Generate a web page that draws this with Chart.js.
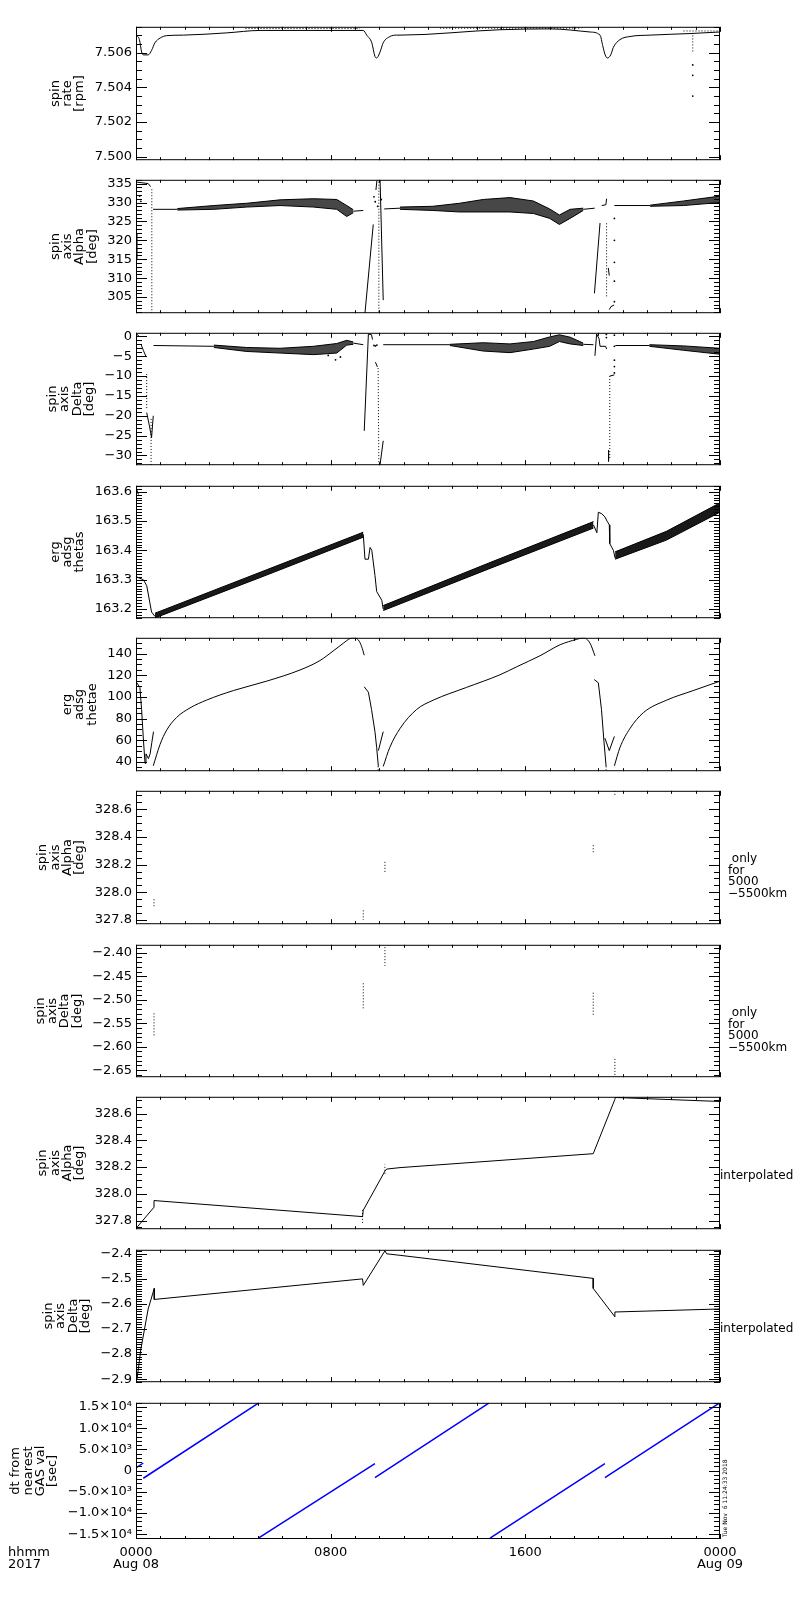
<!DOCTYPE html>
<html>
<head>
<meta charset="utf-8">
<script src="https://cdn.jsdelivr.net/npm/chart.js@4.4.1/dist/chart.umd.min.js"></script>
<style>
  html, body { margin: 0; padding: 0; background: #fff; }
  #wrap { position: relative; width: 800px; height: 1600px; }
  .panel { position: absolute; left: 0; width: 800px; }
</style>
</head>
<body>
<div id="wrap"></div>
<script>
// hours since 0000 Aug 08 2017
const xTicks = [0, 8, 16, 24];
const xLabels = [['0000', 'Aug 08'], '0800', '1600', ['0000', 'Aug 09']];

// spin rate [rpm]
const rateTicks = [7.500, 7.502, 7.504, 7.506];
const rateH = [0, 0.14, 0.23, 0.3, 0.5, 0.64, 0.78, 0.99, 1.26, 1.95, 3.73, 5.1, 9.34, 9.48, 9.69, 9.82, 9.89, 10.03, 10.16, 10.44, 10.71, 10.85, 14.96, 17.02, 18.66, 19.07, 19.18, 19.28, 19.37, 19.51, 19.62, 19.89, 20.3, 21.13, 22.77, 24];
const rateV = [7.50702, 7.50676, 7.50605, 7.50588, 7.50588, 7.50614, 7.50658, 7.50685, 7.50699, 7.50702, 7.50715, 7.50729, 7.50729, 7.50702, 7.50658, 7.50579, 7.5057, 7.50605, 7.50658, 7.50694, 7.50702, 7.50702, 7.50733, 7.50738, 7.5072, 7.50702, 7.50641, 7.50588, 7.5057, 7.50588, 7.50632, 7.50676, 7.50694, 7.50702, 7.50711, 7.5072];
const rateHiH = [4.5, 9.2, 9.2, 12.5, 18.3, 18.3, 22.5, 24];
const rateHiV = [7.50740, 7.50740, null, 7.50742, 7.50742, null, 7.50726, 7.50726];
const rateDropH = [22.88, 22.88];
const rateDropV = [7.5070, 7.5060];
const rateDotH = [22.88, 22.88, 22.88];
const rateDotV = [7.5053, 7.5047, 7.5035];

// spin axis Alpha [deg]
const alphaTicks = [305, 310, 315, 320, 325, 330, 335];
const alphaStartH = [0.02, 0.5, 0.6];
const alphaStartV = [335.4, 335.0, 334.2];
const alphaEdgeH = [0.03, 0.03];
const alphaEdgeV = [321.7, 315.0];
const alphaFallH = [0.65, 0.65];
const alphaFallV = [333.5, 300.8];
const alphaLine1H = [0.7, 1.7, 1.7, 8.93, 9.34];
const alphaLine1V = [328.2, 328.2, null, 327.7, 327.9];
const alphaBand1H = [1.7, 3.2, 4.55, 5.92, 7.29, 8.25, 8.66, 8.93];
const alphaBand1Lo = [328.0, 328.2, 328.8, 329.2, 328.8, 328.2, 326.3, 327.3];
const alphaBand1Hi = [328.4, 329.2, 329.8, 330.7, 331.0, 330.8, 329.2, 328.1];
const alphaSpike1H = [9.41, 9.75, 9.75, 9.86, 9.9, 9.9, 10.03, 10.16];
const alphaSpike1V = [300.8, 324.2, null, 333.3, 335.8, null, 336, 304.2];
const alphaDot1H = [9.98, 9.98];
const alphaDot1V = [335.5, 301];
const alphaPts1H = [0.15, 0.2, 9.78, 9.83, 9.93, 10.08];
const alphaPts1V = [331.7, 330.3, 331.5, 330.2, 329.0, 330.8];
const alphaLine2H = [10.2, 10.85, 10.85, 18.38, 18.85];
const alphaLine2V = [328.3, 328.5, null, 328.2, 328.5];
const alphaBand2H = [10.85, 12.2, 13.3, 14.27, 15.37, 16.33, 17.0, 17.4, 17.84, 18.38];
const alphaBand2Lo = [328.2, 327.9, 327.5, 327.5, 327.5, 327.1, 325.8, 324.2, 325.8, 327.9];
const alphaBand2Hi = [328.8, 329.0, 329.8, 330.8, 331.3, 330.4, 328.3, 326.7, 328.2, 328.5];
const alphaSpike2H = [18.84, 19.07, 19.07, 19.14, 19.31, 19.34, 19.34, 19.41, 19.45, 19.45, 19.45, 19.52, 19.65];
const alphaSpike2V = [306, 324.6, null, 329.2, 329.4, 331.0, null, 312.7, 310.7, null, 301.7, 302.5, 302.9];
const alphaDot2H = [19.34, 19.34];
const alphaDot2V = [324.5, 305];
const alphaPts2H = [19.66, 19.66, 19.66, 19.66, 19.66];
const alphaPts2V = [325.8, 320.0, 314.2, 309.2, 303.8];
const alphaLine3H = [19.66, 21.13];
const alphaLine3V = [329.2, 329.2];
const alphaBand3H = [21.13, 22.5, 24];
const alphaBand3Lo = [329.0, 329.2, 330.0];
const alphaBand3Hi = [329.3, 330.4, 331.7];

// spin axis Delta [deg]
const deltaTicks = [-30, -25, -20, -15, -10, -5, 0];
const deltaStartH = [0.02, 0.12, 0.12, 0.22, 0.3, 0.42, 0.42, 0.44, 0.55, 0.64, 0.71];
const deltaStartV = [0.6, 0.1, null, -2.2, -3.5, -5.2, null, -19.2, -22.5, -25.5, -20];
const deltaDot1H = [0.44, 0.44, 0.44, 0.62, 0.62];
const deltaDot1V = [-9.5, -18.5, null, -20.8, -32.4];
const deltaLine1H = [0.72, 3.2, 3.2, 8.93, 9.34];
const deltaLine1V = [-2.3, -2.5, null, -1.7, -2.1];
const deltaBand1H = [3.2, 4.55, 5.92, 7.29, 8.25, 8.66, 8.93];
const deltaBand1Lo = [-2.8, -3.8, -4.2, -4.6, -4.2, -2.2, -2.0];
const deltaBand1Hi = [-2.2, -2.8, -3.0, -2.5, -1.8, -1.0, -1.4];
const deltaPts1H = [7.9, 8.2, 8.4, 9.78, 9.84, 9.9];
const deltaPts1V = [-4.8, -5.9, -5.2, -2.3, -2.4, -2.2];
const deltaSpike1H = [9.38, 9.55, 9.68, 9.72, 9.72, 9.84, 9.92, 9.92, 10.03, 10.16];
const deltaSpike1V = [-23.8, 0.6, 0.4, -0.8, null, -6.5, -7.7, null, -32.3, -26.3];
const deltaDot2H = [9.95, 9.98];
const deltaDot2V = [-8.0, -32.3];
const deltaLine2H = [10.16, 12.9, 12.9, 18.38, 18.8];
const deltaLine2V = [-2.1, -2.1, null, -2.0, -2.1];
const deltaBand2H = [12.9, 14.27, 15.37, 16.33, 17.0, 17.4, 17.84, 18.38];
const deltaBand2Lo = [-2.3, -3.7, -4.1, -3.2, -2.5, -1.3, -1.9, -2.3];
const deltaBand2Hi = [-2.0, -1.6, -1.9, -1.3, -0.15, 0.4, -0.2, -1.7];
const deltaSpike2H = [18.86, 18.93, 19.03, 19.07, 19.3, 19.34, 19.34, 19.42, 19.42, 19.42, 19.47, 19.66];
const deltaSpike2V = [-4.9, 0.6, -0.6, -2.5, -2.5, -3.2, null, -28.7, -31.5, null, -10, -9.7];
const deltaDot3H = [19.47, 19.47];
const deltaDot3V = [-10, -31];
const deltaPts2H = [19.33, 19.33, 19.66, 19.66, 19.66, 19.66, 19.66];
const deltaPts2V = [0.5, -0.3, 0.3, -2.5, -6.0, -7.6, -9.2];
const deltaLine3H = [19.7, 21.1];
const deltaLine3V = [-2.3, -2.3];
const deltaBand3H = [21.1, 22.5, 24];
const deltaBand3Lo = [-2.5, -3.5, -4.5];
const deltaBand3Hi = [-2.1, -2.4, -3.0];

// erg adsg thetas
const thetasTicks = [163.2, 163.3, 163.4, 163.5, 163.6];
const thetasHeadH = [0.0, 0.1, 0.1, 0.02, 0.02, 0.3, 0.44, 0.64, 0.78];
const thetasHeadV = [163.615, 163.59, null, 163.59, 163.31, 163.30, 163.28, 163.19, 163.175];
const thetasBand1H = [0.78, 5.37, 9.34];
const thetasBand1Lo = [163.17, 163.316, 163.445];
const thetasBand1Hi = [163.186, 163.334, 163.462];
const thetasMidH = [9.34, 9.41, 9.55, 9.62, 9.69, 9.82, 9.89, 10.1, 10.16];
const thetasMidV = [163.455, 163.37, 163.37, 163.41, 163.40, 163.315, 163.26, 163.23, 163.2];
const thetasBand2H = [10.16, 14.5, 18.8];
const thetasBand2Lo = [163.195, 163.337, 163.476];
const thetasBand2Hi = [163.212, 163.357, 163.498];
const thetasSpikeH = [18.8, 18.94, 19.0, 19.14, 19.27, 19.37, 19.45, 19.47, 19.62, 19.69];
const thetasSpikeV = [163.487, 163.46, 163.53, 163.525, 163.514, 163.498, 163.487, 163.423, 163.40, 163.374];
const thetasBand3H = [19.69, 21.8, 24];
const thetasBand3Lo = [163.37, 163.435, 163.53];
const thetasBand3Hi = [163.395, 163.465, 163.562];

// erg adsg thetae
const thetaeTicks = [40, 60, 80, 100, 120, 140];
const thetaeHeadH = [0.03, 0.16, 0.23, 0.3, 0.37, 0.41, 0.51, 0.58, 0.65, 0.72];
const thetaeHeadV = [113.2, 108.8, 88.4, 62.1, 38.8, 47.5, 43.1, 47.5, 58, 68];
const thetaeArc1H = [0.71, 0.99, 1.26, 1.67, 2.22, 2.9, 4.0, 5.37, 6.74, 7.56, 8.1, 8.52, 8.8, 8.93, 9.14, 9.27, 9.38];
const thetaeArc1V = [36.5, 56.3, 69.4, 81.1, 89.9, 97.1, 105.9, 114.6, 124.9, 133.6, 142.4, 149.6, 154.0, 154.6, 152.5, 146.7, 138.5];
const thetaeFall1H = [9.38, 9.55, 9.68, 9.82, 9.89, 9.96, 9.96, 9.96, 10.16];
const thetaeFall1V = [109.4, 104.4, 88.4, 68, 53.4, 35.9, null, 50.5, 68];
const thetaeArc2H = [10.16, 10.43, 10.85, 11.53, 12.22, 13.58, 14.96, 15.64, 16.6, 17.43, 18.1, 18.38, 18.66, 18.86];
const thetaeArc2V = [35.9, 53.4, 70.9, 88.4, 97.1, 108.8, 120.5, 127.8, 138.0, 148.2, 153.1, 154.6, 149.6, 138.0];
const thetaeFall2H = [18.83, 19.0, 19.13, 19.23, 19.32, 19.32, 19.27, 19.45, 19.66];
const thetaeFall2V = [116.1, 113.1, 88.4, 59.2, 35.9, null, 62, 50.5, 63.6];
const thetaeDotH = [9.95, 9.95, 9.95, 19.32, 19.32];
const thetaeDotV = [36, 31.5, null, 36, 31.5];
const thetaeArc3H = [19.66, 19.89, 20.3, 20.85, 21.81, 22.9, 24];
const thetaeArc3V = [36.5, 53.4, 70.9, 85.5, 97.1, 105.9, 114.6];

// only for 5000-5500km
const alphaFineTicks = [327.8, 328.0, 328.2, 328.4, 328.6];
const onlyH = [0.74, 0.74, 0.74, 9.34, 9.34, 9.34, 10.23, 10.23, 10.23, 18.79, 18.79, 18.79, 19.68, 19.68];
const onlyAlphaV = [327.95, 327.90, null, 327.87, 327.80, null, 328.22, 328.14, null, 328.34, 328.29, null, 328.733, 328.69];
const deltaFineTicks = [-2.65, -2.60, -2.55, -2.50, -2.45, -2.40];
const onlyDeltaV = [-2.529, -2.579, null, -2.465, -2.522, null, -2.388, -2.428, null, -2.485, -2.536, null, -2.626, -2.662];

// interpolated
const interpAlphaH = [0.03, 0.74, 0.74, 9.31, 9.34, 10.23, 10.3, 10.85, 18.79, 19.68, 19.7, 24];
const interpAlphaV = [327.748, 327.90, 327.95, 327.83, 327.878, 328.17, 328.185, 328.196, 328.30, 328.706, 328.72, 328.69];
const interpAlphaDotH = [9.31, 9.31, 9.31, 10.23, 10.23];
const interpAlphaDotV = [327.88, 327.77, null, 328.15, 328.22];
const interpDeltaTicks = [-2.9, -2.8, -2.7, -2.6, -2.5, -2.4];
const interpDeltaH = [0.04, 0.2, 0.5, 0.75, 0.75, 9.31, 9.34, 10.23, 10.3, 10.85, 18.79, 18.79, 19.68, 19.68, 24];
const interpDeltaV = [-2.902, -2.78, -2.62, -2.538, -2.582, -2.50, -2.526, -2.388, -2.40, -2.406, -2.498, -2.538, -2.651, -2.632, -2.62];

// dt from nearest GAS val [sec]
const dtTicks = [-15000, -10000, -5000, 0, 5000, 10000, 15000];
const dtLabels = ['−1.5×10⁴', '−1.0×10⁴', '−5.0×10³', '0', '5.0×10³', '1.0×10⁴', '1.5×10⁴'];
const dtH = [0.0, 0.3, 0.3, 0.3, 5.03, 5.03, 5.03, 9.82, 9.82, 9.82, 14.5, 14.52, 14.55, 19.27, 19.27, 19.27, 23.97];
const dtV = [640, 1790, null, -1810, 15920, null, -15920, 1630, null, -1650, 15920, null, -15920, 1630, null, -1650, 15920];

const FONT = '"DejaVu Sans", "Liberation Sans", sans-serif';

const num = (d) => (v) => (v < 0 ? '−' : '') + Math.abs(v).toFixed(d);

const panels = [
  { top: 23, bottom: 164, min: 7.4998, max: 7.5075, ticks: rateTicks, minor: 0.0005, fmt: num(3),
    title: ['spin', 'rate', '[rpm]'],
    series: [['smooth', rateH, rateV], ['dot', rateHiH, rateHiV], ['dot', rateDropH, rateDropV], ['pts', rateDotH, rateDotV]] },
  { top: 176, bottom: 317, min: 300.75, max: 336, ticks: alphaTicks, minor: 1, fmt: num(0), shade: 0.72,
    title: ['spin', 'axis', 'Alpha', '[deg]'],
    series: [
      ['line', alphaStartH, alphaStartV], ['line', alphaEdgeH, alphaEdgeV], ['dot', alphaFallH, alphaFallV],
      ['line', alphaLine1H, alphaLine1V], ['band', alphaBand1H, alphaBand1Lo, alphaBand1Hi],
      ['line', alphaSpike1H, alphaSpike1V], ['dot', alphaDot1H, alphaDot1V], ['pts', alphaPts1H, alphaPts1V],
      ['line', alphaLine2H, alphaLine2V], ['band', alphaBand2H, alphaBand2Lo, alphaBand2Hi],
      ['line', alphaSpike2H, alphaSpike2V], ['dot', alphaDot2H, alphaDot2V], ['pts', alphaPts2H, alphaPts2V],
      ['line', alphaLine3H, alphaLine3V], ['band', alphaBand3H, alphaBand3Lo, alphaBand3Hi]
    ] },
  { top: 329, bottom: 469, min: -32.45, max: 0.9, ticks: deltaTicks, minor: 1, fmt: num(0), shade: 0.72,
    title: ['spin', 'axis', 'Delta', '[deg]'],
    series: [
      ['line', deltaStartH, deltaStartV], ['dot', deltaDot1H, deltaDot1V],
      ['line', deltaLine1H, deltaLine1V], ['band', deltaBand1H, deltaBand1Lo, deltaBand1Hi], ['pts', deltaPts1H, deltaPts1V],
      ['line', deltaSpike1H, deltaSpike1V], ['dot', deltaDot2H, deltaDot2V],
      ['line', deltaLine2H, deltaLine2V], ['band', deltaBand2H, deltaBand2Lo, deltaBand2Hi],
      ['line', deltaSpike2H, deltaSpike2V], ['dot', deltaDot3H, deltaDot3V], ['pts', deltaPts2H, deltaPts2V],
      ['line', deltaLine3H, deltaLine3V], ['band', deltaBand3H, deltaBand3Lo, deltaBand3Hi]
    ] },
  { top: 482, bottom: 622, min: 163.169, max: 163.62, ticks: thetasTicks, minor: 0.01, fmt: num(1), shade: 0.9,
    title: ['erg', 'adsg', 'thetas'],
    series: [
      ['line', thetasHeadH, thetasHeadV], ['band', thetasBand1H, thetasBand1Lo, thetasBand1Hi],
      ['line', thetasMidH, thetasMidV], ['band', thetasBand2H, thetasBand2Lo, thetasBand2Hi],
      ['line', thetasSpikeH, thetasSpikeV], ['band', thetasBand3H, thetasBand3Lo, thetasBand3Hi]
    ] },
  { top: 634, bottom: 775, min: 31.5, max: 154.6, ticks: thetaeTicks, minor: 5, fmt: num(0),
    title: ['erg', 'adsg', 'thetae'],
    series: [
      ['line', thetaeHeadH, thetaeHeadV], ['smooth', thetaeArc1H, thetaeArc1V], ['line', thetaeFall1H, thetaeFall1V],
      ['smooth', thetaeArc2H, thetaeArc2V], ['line', thetaeFall2H, thetaeFall2V], ['dot', thetaeDotH, thetaeDotV],
      ['smooth', thetaeArc3H, thetaeArc3V]
    ] },
  { top: 787, bottom: 928, min: 327.77, max: 328.733, ticks: alphaFineTicks, minor: 0.05, fmt: num(1),
    title: ['spin', 'axis', 'Alpha', '[deg]'], note: [' only', 'for', '5000', '−5500km'],
    series: [['dot', onlyH, onlyAlphaV]] },
  { top: 941, bottom: 1081, min: -2.665, max: -2.383, ticks: deltaFineTicks, minor: 0.01, fmt: num(2),
    title: ['spin', 'axis', 'Delta', '[deg]'], note: [' only', 'for', '5000', '−5500km'],
    series: [['dot', onlyH, onlyDeltaV]] },
  { top: 1093, bottom: 1233, min: 327.736, max: 328.725, ticks: alphaFineTicks, minor: 0.05, fmt: num(1),
    title: ['spin', 'axis', 'Alpha', '[deg]'], side: 'interpolated',
    series: [['line', interpAlphaH, interpAlphaV], ['dot', interpAlphaDotH, interpAlphaDotV]] },
  { top: 1246, bottom: 1386, min: -2.912, max: -2.384, ticks: interpDeltaTicks, minor: 0.01, fmt: num(1),
    title: ['spin', 'axis', 'Delta', '[deg]'], side: 'interpolated',
    series: [['line', interpDeltaH, interpDeltaV]] },
  { top: 1399, bottom: 1539, min: -16150, max: 16000, ticks: dtTicks, minor: 1000, labels: dtLabels,
    title: ['dt from', 'nearest', 'GAS val', '[sec]'], color: '#0000ff', width: 1.5,
    stamp: 'Tue Nov  6 11:24:33 2018',
    series: [['line', dtH, dtV]] }
];

function pts(h, v) {
  return h.map((x, i) => ({ x, y: v[i] }));
}

function buildSets(p) {
  const color = p.color || '#000';
  const shade = 'rgba(0,0,0,' + (p.shade || 0.85) + ')';
  const sets = [];
  p.series.forEach(([kind, h, a, b]) => {
    const base = { borderColor: color, borderWidth: p.width || 1, pointRadius: 0, fill: false, tension: 0, spanGaps: false };
    if (kind === 'band') {
      sets.push({ ...base, data: pts(h, a) });
      sets.push({ ...base, data: pts(h, b), fill: '-1', backgroundColor: shade });
    } else if (kind === 'dot') {
      sets.push({ ...base, data: pts(h, a), borderDash: [1, 2] });
    } else if (kind === 'pts') {
      sets.push({ ...base, data: pts(h, a), showLine: false, pointRadius: 0.9, pointBorderWidth: 0, pointBackgroundColor: color });
    } else if (kind === 'smooth') {
      sets.push({ ...base, data: pts(h, a), cubicInterpolationMode: 'monotone' });
    } else {
      sets.push({ ...base, data: pts(h, a) });
    }
  });
  return sets;
}

function tickLine(ctx, x1, y1, x2, y2) {
  ctx.beginPath();
  ctx.moveTo(x1, y1);
  ctx.lineTo(x2, y2);
  ctx.stroke();
}

const idlFrame = {
  id: 'idl',
  afterDraw(chart, args, p) {
    const ctx = chart.ctx;
    const { left, right, top, bottom } = chart.chartArea;
    const ys = chart.scales.y;
    const xs = chart.scales.x;
    ctx.save();
    ctx.strokeStyle = '#000';
    ctx.lineWidth = 1;
    ctx.strokeRect(left + 0.5, top + 0.5, right - left - 1, bottom - top - 1);

    // y ticks, inward on both sides
    const isMajor = (v) => p.ticks.some(t => Math.abs(t - v) < p.minor * 0.01);
    const n0 = Math.ceil(p.min / p.minor - 1e-9);
    const n1 = Math.floor(p.max / p.minor + 1e-9);
    for (let n = n0; n <= n1; n++) {
      const v = n * p.minor;
      const len = isMajor(v) ? 11 : 6;
      const y = Math.round(ys.getPixelForValue(v)) + 0.5;
      tickLine(ctx, left, y, left + len, y);
      tickLine(ctx, right, y, right - len, y);
    }
    p.ticks.forEach(v => {
      const y = Math.round(ys.getPixelForValue(v)) + 0.5;
      tickLine(ctx, left, y, left + 11, y);
      tickLine(ctx, right, y, right - 11, y);
    });

    // x ticks, every hour, longer every 8 h
    for (let hr = 0; hr <= 24; hr++) {
      const len = hr % 8 === 0 ? 5 : 3;
      const x = Math.round(xs.getPixelForValue(hr)) + 0.5;
      tickLine(ctx, x, bottom, x, bottom - len);
      tickLine(ctx, x, top, x, top + len);
    }

    // rotated y title beside the tick labels
    ctx.fillStyle = '#000';
    ctx.font = '13px ' + FONT;
    const labels = p.labels || p.ticks.map(p.fmt);
    const labelW = Math.max(...labels.map(s => ctx.measureText(s).width));
    const titleRight = left - 4 - labelW - 9;
    const mid = (top + bottom) / 2;
    ctx.textAlign = 'center';
    ctx.textBaseline = 'middle';
    p.title.forEach((line, i) => {
      const x = titleRight - 6 - (p.title.length - 1 - i) * 12.3;
      ctx.save();
      ctx.translate(x, mid);
      ctx.rotate(-Math.PI / 2);
      ctx.fillText(line, 0, 0);
      ctx.restore();
    });

    ctx.textAlign = 'left';
    if (p.note) {
      ctx.font = '12px ' + FONT;
      p.note.forEach((line, i) => ctx.fillText(line, right + 8, top + 68 + i * 11.7));
    }
    if (p.side) {
      ctx.font = '12px ' + FONT;
      ctx.fillText(p.side, right, top + 79);
    }
    if (p.stamp) {
      ctx.font = '6px ' + FONT;
      ctx.save();
      ctx.translate(right + 5, bottom - 2);
      ctx.rotate(-Math.PI / 2);
      ctx.fillText(p.stamp, 0, 0);
      ctx.restore();
      ctx.font = '13px ' + FONT;
      ctx.fillText('hhmm', 8, bottom + 14);
      ctx.fillText('2017', 8, bottom + 26);
    }
    ctx.restore();
  }
};

const wrap = document.getElementById('wrap');

panels.forEach((p, i) => {
  const last = i === panels.length - 1;
  const padT = 8;
  const padB = last ? 0 : 8;
  const xH = last ? 44 : 0;
  const box = document.createElement('div');
  box.className = 'panel';
  box.style.top = (p.top - padT) + 'px';
  box.style.height = (p.bottom - p.top + padT + padB + xH) + 'px';
  const cv = document.createElement('canvas');
  box.appendChild(cv);
  wrap.appendChild(box);

  new Chart(cv.getContext('2d'), {
    type: 'line',
    data: { datasets: buildSets(p) },
    options: {
      responsive: true,
      maintainAspectRatio: false,
      animation: false,
      events: [],
      layout: { padding: { top: padT, bottom: padB, left: 0, right: 80 } },
      plugins: { legend: { display: false }, tooltip: { enabled: false }, idl: p },
      scales: {
        x: {
          type: 'linear',
          min: 0,
          max: 24,
          display: last,
          afterBuildTicks: (s) => { s.ticks = xTicks.map(v => ({ value: v })); },
          afterFit: (s) => { s.height = xH; },
          grid: { display: false, drawTicks: false },
          border: { display: false },
          ticks: {
            autoSkip: false,
            maxRotation: 0,
            padding: 7,
            color: '#000',
            font: { family: FONT, size: 13, lineHeight: 0.95 },
            callback: (v, idx) => xLabels[idx]
          }
        },
        y: {
          type: 'linear',
          min: p.min,
          max: p.max,
          afterBuildTicks: (s) => { s.ticks = p.ticks.map(v => ({ value: v })); },
          afterFit: (s) => { s.width = 136; },
          grid: { display: false, drawTicks: false },
          border: { display: false },
          ticks: {
            autoSkip: false,
            padding: 4,
            color: '#000',
            font: { family: FONT, size: 13 },
            callback: (v, idx) => (p.labels ? p.labels[idx] : p.fmt(p.ticks[idx]))
          }
        }
      }
    },
    plugins: [idlFrame]
  });
});
</script>
</body>
</html>
